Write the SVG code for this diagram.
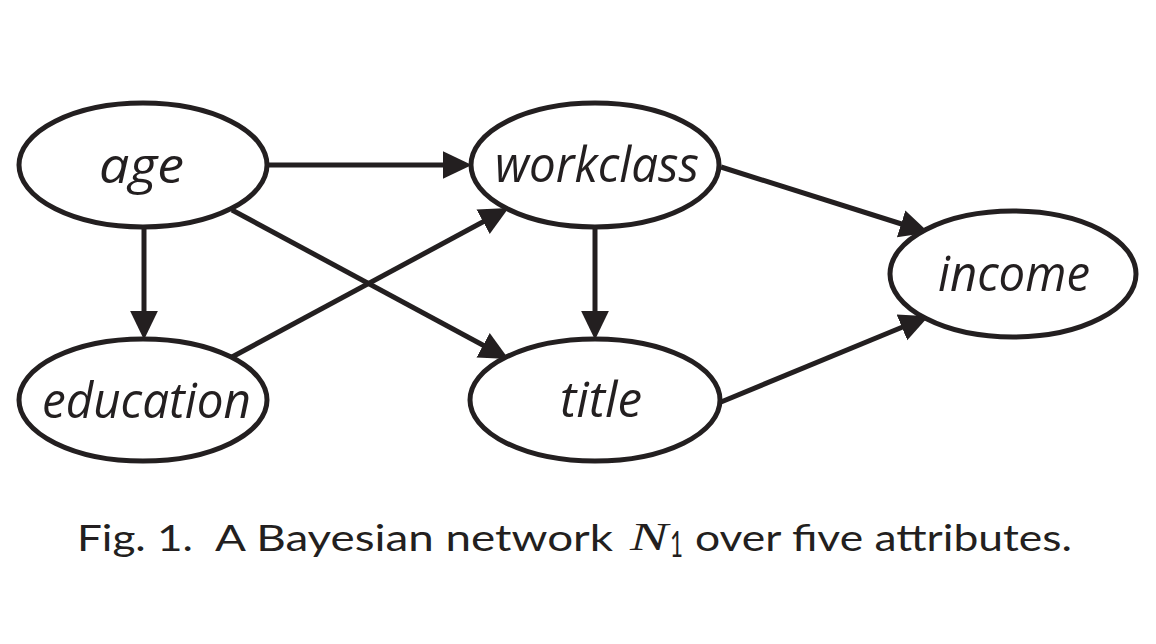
<svg xmlns="http://www.w3.org/2000/svg" width="1156" height="644" viewBox="0 0 1156 644">
<style>
.node ellipse{fill:#fff;stroke:#231f20;stroke-width:5}
.node text{font-family:"Open Sans","DejaVu Sans",sans-serif;font-style:italic;font-size:50px;fill:#231f20}
.edge{stroke:#231f20;stroke-width:5;fill:none;marker-end:url(#arrow)}
.cap{font-family:Lato,"Open Sans","DejaVu Sans",sans-serif;font-size:37px;fill:#231f20}
</style>
<defs>
<marker id="arrow" markerUnits="userSpaceOnUse" markerWidth="30" markerHeight="30" viewBox="0 -14 28 28" refX="2" refY="0" orient="auto">
<path d="M0,-13 L27,0 L0,13 z" fill="#231f20"/>
</marker>
</defs>
<rect width="1156" height="644" fill="#fff"/>
<g id="connectors">
<path class="edge" d="M269,165 L445,165"/>
<path class="edge" d="M144,229 L144,313"/>
<path class="edge" d="M595,229 L595,313"/>
<path class="edge" d="M232,210 L485,346.2"/>
<path class="edge" d="M232,357 L485,220.8"/>
<path class="edge" d="M721,167 L903.2,224.5"/>
<path class="edge" d="M721,402 L903.9,326.5"/>
</g>
<g id="age" class="node">
<ellipse cx="143" cy="165" rx="124" ry="62"/>
<text x="99" y="183" textLength="85" lengthAdjust="spacingAndGlyphs">age</text>
</g>
<g id="education" class="node">
<ellipse cx="143" cy="400" rx="124" ry="61"/>
<text x="42" y="418" textLength="209" lengthAdjust="spacingAndGlyphs">education</text>
</g>
<g id="workclass" class="node">
<ellipse cx="595" cy="165" rx="124" ry="62"/>
<text x="495" y="182" textLength="204" lengthAdjust="spacingAndGlyphs">workclass</text>
</g>
<g id="title" class="node">
<ellipse cx="595" cy="400" rx="125" ry="61"/>
<text x="560" y="417" textLength="82" lengthAdjust="spacingAndGlyphs">title</text>
</g>
<g id="income" class="node">
<ellipse cx="1013" cy="274" rx="123" ry="63"/>
<text x="938" y="291" textLength="152" lengthAdjust="spacingAndGlyphs">income</text>
</g>
<g id="caption">
<text class="cap" x="77" y="551" textLength="116" lengthAdjust="spacingAndGlyphs">Fig. 1.</text>
<text class="cap" x="215" y="551" textLength="398" lengthAdjust="spacingAndGlyphs">A Bayesian network</text>
<text x="630" y="550" font-family="'Liberation Serif',serif" font-style="italic" font-size="40" fill="#231f20" textLength="38" lengthAdjust="spacingAndGlyphs">N</text>
<text class="cap" x="670" y="557" font-size="26" textLength="13" lengthAdjust="spacingAndGlyphs">1</text>
<text class="cap" x="695" y="551" textLength="377" lengthAdjust="spacingAndGlyphs">over five attributes.</text>
</g>
</svg>
